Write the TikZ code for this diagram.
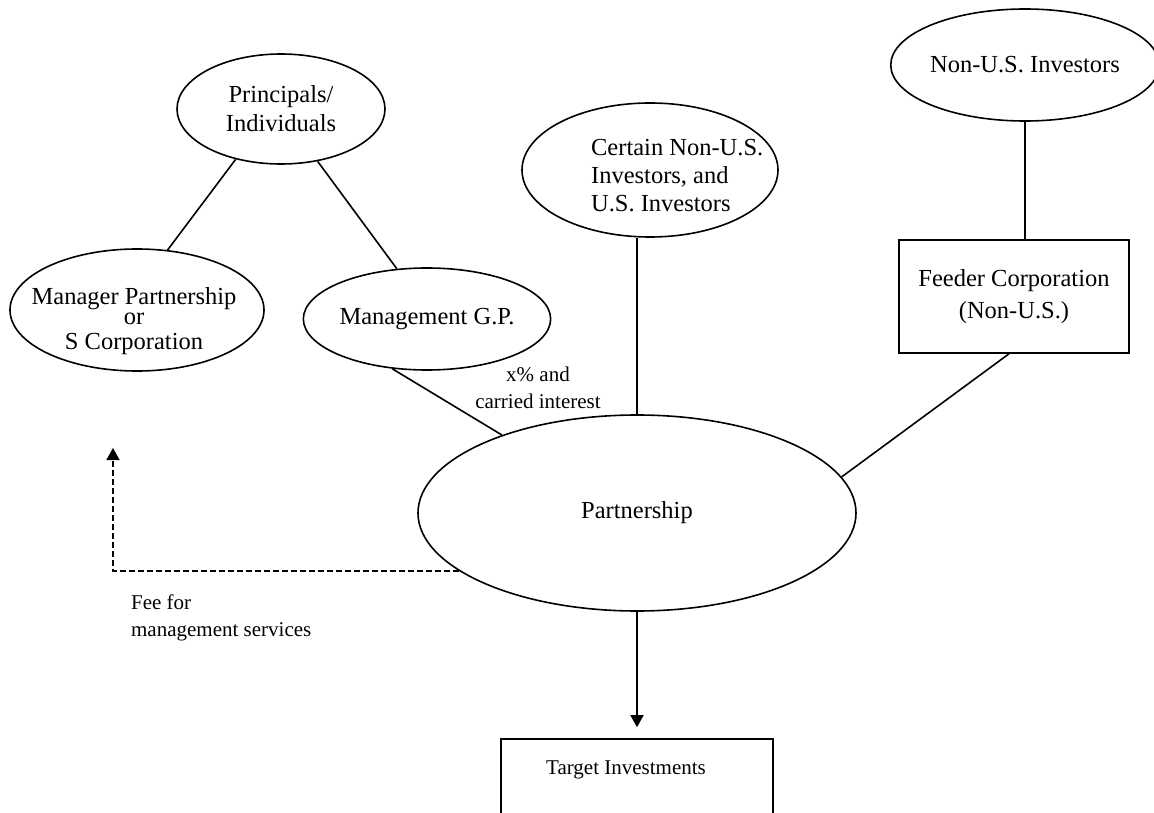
\documentclass[tikz,border=0pt]{standalone}
\usepackage{fontspec}
\setmainfont{Liberation Serif}
\usetikzlibrary{shapes.geometric,arrows.meta}

\begin{document}
\begin{tikzpicture}[x=1pt, y=-1pt, line width=1.6pt,
    oval/.style={draw, shape=ellipse, inner sep=0pt, font=\fontsize{24.5}{29}\selectfont, align=center},
    box/.style={draw, shape=rectangle, inner sep=0pt, font=\fontsize{24.5}{32}\selectfont, align=center},
    words/.style={font=\fontsize{24.5}{28}\selectfont},
    note/.style={font=\fontsize{21}{27}\selectfont},
    tip/.style={-{Triangle[width=13pt,length=12pt]}},
    fee/.style={dash pattern=on 6pt off 3pt}]
            \useasboundingbox (0,0) rectangle (1154,813);

            \node (princ) at (281,109) [oval, minimum width=208, minimum height=110] {Principals/\\Individuals};
            \node (mgr) at (137,310) [oval, minimum width=254, minimum height=122] {};
            \node (mgrtxt) at (134,321) [words, align=center] {Manager Partnership\\[-8pt]or\\[-3pt]S Corporation};
            \node (gp) at (427,319) [oval, minimum width=228, minimum height=102] {Management G.P.};
            \node (certain) at (650,170) [oval, minimum width=256, minimum height=134] {};
            \node (certaintxt) at (587,176) [words, align=left, anchor=west] {Certain Non-U.S.\\Investors, and\\U.S. Investors};
            \node (nonus) at (1025,65) [oval, minimum width=266, minimum height=112] {Non-U.S. Investors};
            \node (feeder) at (1014,296.5) [box, minimum width=230, minimum height=113] {Feeder Corporation\\(Non-U.S.)};
            \node (partn) at (637,513) [oval, minimum width=438, minimum height=196] {Partnership};
            \node (target) at (637,776.5) [box, minimum width=272, minimum height=75] {};
            \node (targettxt) at (626,770) [note] {Target Investments};

            \node (share) at (538,388) [note, align=center] {x\% and\\carried interest};
            \node (fees) at (127,618) [note, align=left, anchor=west] {Fee for\\management services};
            \coordinate (feetip) at (113,448);

            \draw (princ.228.6) -- (mgr.63.4);
            \draw (princ.305.4) -- (gp.121.5);
            \draw (gp.235.7) -- (partn.150.8);
            \draw (certain.south -| partn.north) -- (partn.north);
            \draw (nonus.south) -- (nonus.south |- feeder.north);
            \draw (feeder.265) -- (partn.10.7);
            \draw[tip, shorten >=11pt] (partn) -- (target);
            \draw[fee, tip] (partn.198.7) -| (feetip);
        \end{tikzpicture}
\end{document}
